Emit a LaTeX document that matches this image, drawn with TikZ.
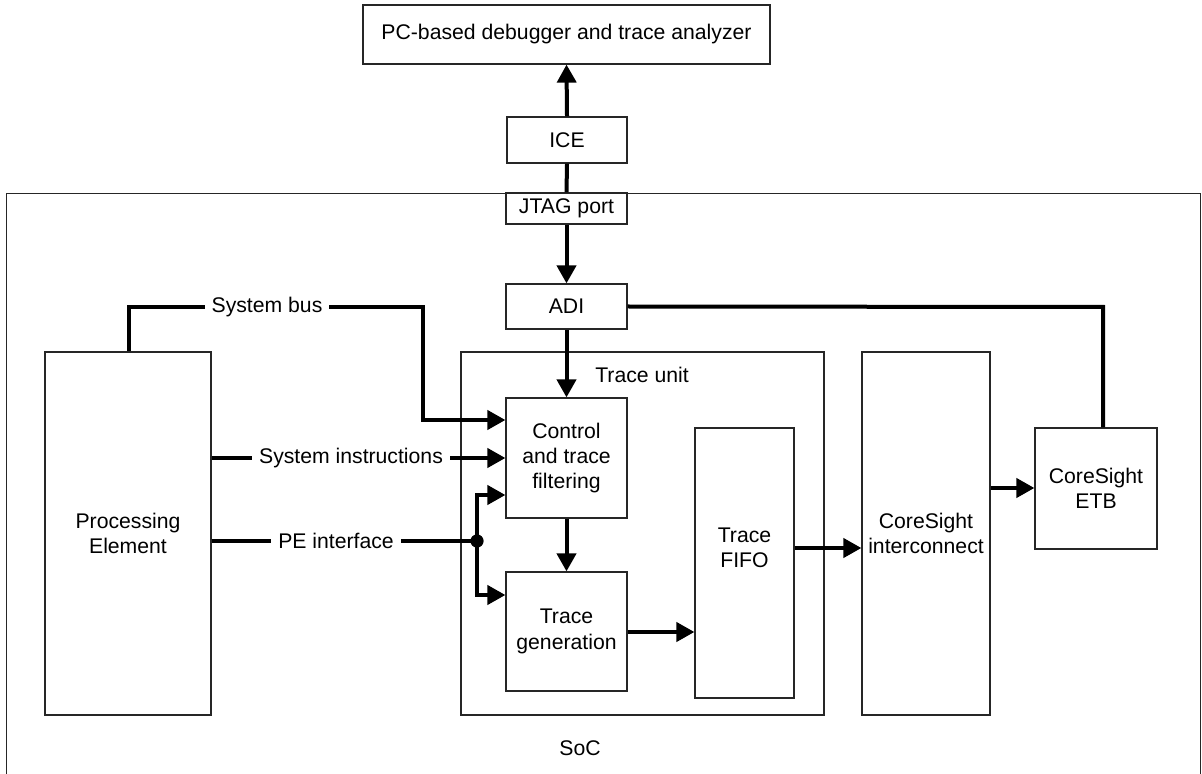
\documentclass[tikz,border=0pt]{standalone}
\usepackage{fontspec}
\setmainfont{Liberation Sans}
\usetikzlibrary{arrows.meta,positioning,calc}
\begin{document}
\begin{tikzpicture}[x=0.5pt,y=-0.5pt,
  font=\fontsize{10.6pt}{12.6pt}\selectfont,
  blk/.style={draw=black!85,line width=0.6pt,fill=white,inner sep=0pt,align=center},
  wire/.style={line width=2pt,draw=black},
  arr/.style={wire,-{Triangle[length=9pt,width=9.5pt]}},
  lbl/.style={fill=white,inner xsep=3.5pt,inner ysep=1pt}]
\useasboundingbox (0,0) rectangle (1202,774);
% SoC container
\node[blk,minimum width=597pt,minimum height=320pt,anchor=north west] (soc) at (6,193) {};
\node (soclbl) at (580,748) {SoC};
% top
\node[blk,minimum width=203.5pt,minimum height=29.5pt] (pc) at (566.5,34.5) {PC-based debugger and trace analyzer};
\node[blk,minimum width=60pt,minimum height=23pt] (ice) at (567,140) {ICE};
\node[blk,minimum width=60.5pt,minimum height=15.5pt] (jtag) at (566.5,208.5) {JTAG port};
\node[blk,minimum width=60.5pt,minimum height=22.5pt] (adi) at (566.5,306.5) {ADI};
% main blocks
\node[blk,minimum width=83pt,minimum height=181.5pt] (pe) at (128,533.5) {};
\node[align=center] (petxt) at (128,533.5) {Processing\\Element};
\node[blk,minimum width=181.5pt,minimum height=181.5pt] (tu) at (642.5,533.5) {};
\node (tutxt) at (642,375) {Trace unit};
\node[blk,minimum width=60.5pt,minimum height=60pt] (ctrl) at (566.5,458) {Control\\and trace\\filtering};
\node[blk,minimum width=60.5pt,minimum height=59.5pt] (tgen) at (566.5,631.5) {Trace\\generation};
\node[blk,minimum width=49.5pt,minimum height=135pt] (fifo) at (744.5,563) {};
\node[align=center] (fifotxt) at (744.5,548) {Trace\\FIFO};
\node[blk,minimum width=64pt,minimum height=181.5pt] (csi) at (926,533.5) {CoreSight\\interconnect};
\node[blk,minimum width=61pt,minimum height=60.5pt] (etb) at (1096,488.5) {CoreSight\\ETB};
% coordinates
\coordinate (sbL) at (128.5,307);
\coordinate (sbR) at (423,307);
\coordinate (sbD) at (423,420);
\coordinate (adiR) at (1103,307);
\coordinate (dot) at (477,541);
\coordinate (dotU) at (477,495);
\coordinate (dotD) at (477,595);
% connectors
\draw[arr] (ice.north) -- (pc.south);
\draw[wire] (jtag.north) -- (ice.south);
\draw[arr] (jtag.south) -- (adi.north);
\draw[arr] (adi.south) -- (ctrl.north);
\draw[wire] (adi.east) -- (adiR) -- (adiR |- etb.north);
\draw[arr] (pe.north -| sbL) -- (sbL) -- (sbR) -- (sbD) -- (sbD -| ctrl.west);
\node[lbl] (sblbl) at (267,307) {System bus};
\draw[arr] (pe.east |- 0,458) -- (ctrl.west |- 0,458);
\node[lbl] (silbl) at (351,458) {System instructions};
\draw[wire] (pe.east |- dot) -- (dot);
\node[lbl] (pelbl) at (336,541) {PE interface};
\fill (dot) circle (3.3pt);
\draw[arr] (dot) -- (dotU) -- (dotU -| ctrl.west);
\draw[arr] (dot) -- (dotD) -- (dotD -| tgen.west);
\draw[arr] (ctrl.south) -- (tgen.north);
\draw[arr] (tgen.east |- 0,632) -- (fifo.west |- 0,632);
\draw[arr] (fifo.east |- 0,548) -- (csi.west |- 0,548);
\draw[arr] (csi.east |- 0,488) -- (etb.west |- 0,488);
\end{tikzpicture}
\end{document}
